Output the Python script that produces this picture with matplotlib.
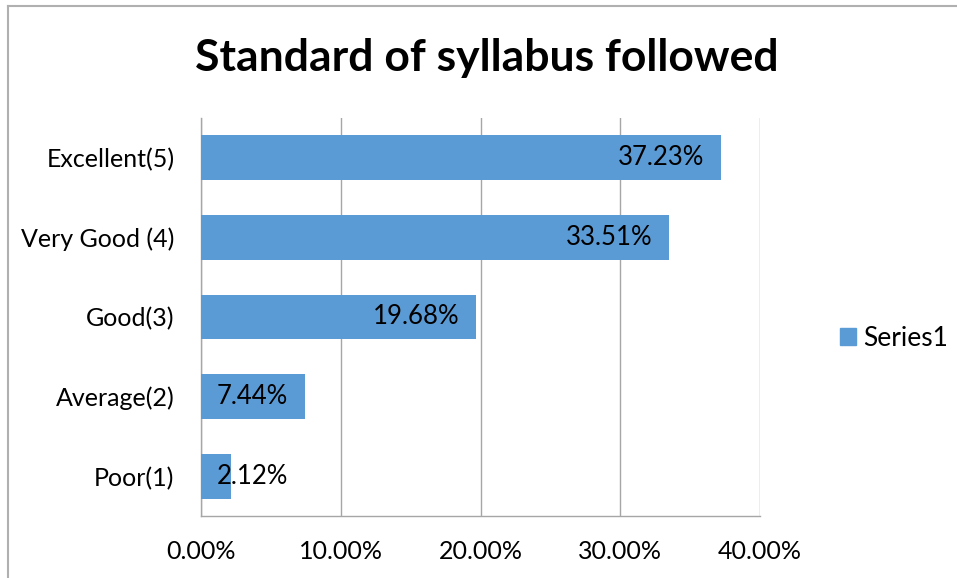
import matplotlib
matplotlib.use("Agg")
import matplotlib.pyplot as plt
from matplotlib.lines import Line2D
from matplotlib.patches import Patch
from matplotlib.ticker import FuncFormatter

# data
categories = ["Poor(1)", "Average(2)", "Good(3)", "Very Good (4)", "Excellent(5)"]
values = [2.12, 7.44, 19.68, 33.51, 37.23]
xticks = [0, 10, 20, 30, 40]

bar_color = "#5B9BD5"
grid_color = "#A6A6A6"
plt.rcParams["font.family"] = ["Lato", "DejaVu Sans"]

fig = plt.figure(figsize=(9.57, 5.78), dpi=100)
ax = fig.add_axes([201 / 957, 62 / 578, 559 / 957, 398 / 578])

ypos = list(range(len(categories)))
ax.barh(ypos, values, height=0.565, color=bar_color, zorder=3)

ax.set_xlim(0, 40)
ax.set_ylim(-0.5, len(categories) - 0.5)
ax.set_xticks(xticks)
ax.xaxis.set_major_formatter(FuncFormatter(lambda v, p: "%.2f%%" % v))
ax.set_yticks(ypos)
ax.set_yticklabels(categories)
ax.tick_params(axis="both", length=0, labelsize=18, colors="black")
ax.tick_params(axis="y", pad=19)
ax.tick_params(axis="x", pad=17)
ax.grid(axis="x", color=grid_color, linewidth=1.0, zorder=0)

for s in ["top", "right"]:
    ax.spines[s].set_visible(False)
for s in ["left", "bottom"]:
    ax.spines[s].set_color(grid_color)
    ax.spines[s].set_linewidth(1.0)

# data labels: inside end, pushed right when the bar is too short
for y, v in zip(ypos, values):
    txt = "%.2f%%" % v
    if v > 5:
        ax.annotate(txt, (v, y), xytext=(-12, 0), textcoords="offset points",
                    ha="right", va="center", fontsize=18.5, zorder=4)
    else:
        ax.annotate(txt, (0, y), xytext=(11, 0), textcoords="offset points",
                    ha="left", va="center", fontsize=18.5, zorder=4)

fig.text(487 / 957, 1 - 58 / 578, "Standard of syllabus followed",
         ha="center", va="center", fontsize=32, fontweight="bold")

fig.legend(handles=[Patch(color=bar_color, label="Series1")],
           loc="center left", bbox_to_anchor=(832 / 957, 1 - 338 / 578),
           frameon=False, fontsize=19, handlelength=0.6, handleheight=0.6,
           handletextpad=0.3, borderaxespad=0, borderpad=0.3)

# chart frame
fig.add_artist(Line2D([8 / 957, 8 / 957], [0, 1 - 6 / 578],
                      transform=fig.transFigure, color="#B0B0B0", linewidth=1.5))
fig.add_artist(Line2D([8 / 957, 1], [1 - 6 / 578, 1 - 6 / 578],
                      transform=fig.transFigure, color="#B0B0B0", linewidth=1.5))

fig.savefig("out.png", dpi=100)
